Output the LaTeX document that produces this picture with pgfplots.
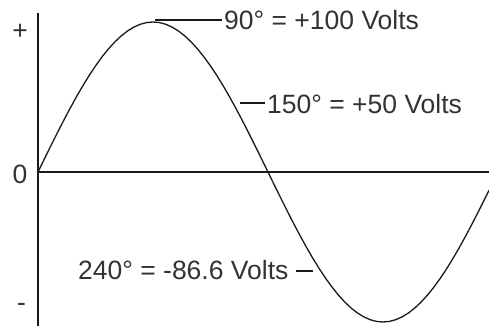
\documentclass[border=0pt]{standalone}
\usepackage{fontspec}
\setmainfont{Liberation Sans}
\usepackage{pgfplots}
\pgfplotsset{compat=1.18}
\begin{document}
\begin{tikzpicture}
\path[use as bounding box] (0,0) rectangle (489pt,326pt);
\begin{axis}[at={(38pt,0pt)}, anchor=south west, scale only axis,
  width=451pt, height=313pt, xmin=0, xmax=353, ymin=-102.67, ymax=106,
  axis lines=none, ticks=none, clip=false]
\draw[line width=1.5pt, black!90] (axis cs:0,-102.67) -- (axis cs:0,106);
\draw[line width=1.4pt, black!90] (axis cs:0,0) -- (axis cs:353,0);
\addplot[line width=1.3pt, black!90, mark=none] coordinates {
(0,0)(5,8.72)(10,17.36)(15,25.88)(20,34.20)(25,42.26)(30,50)(35,57.36)(40,64.28)(45,70.71)(50,76.60)(55,81.92)(60,86.60)(65,90.63)(70,93.97)(75,96.59)(80,98.48)(85,99.62)(90,100)(95,99.62)(100,98.48)(105,96.59)(110,93.97)(115,90.63)(120,86.60)(125,81.92)(130,76.60)(135,70.71)(140,64.28)(145,57.36)(150,50)(155,42.26)(160,34.20)(165,25.88)(170,17.36)(175,8.72)(180,0)(185,-8.72)(190,-17.36)(195,-25.88)(200,-34.20)(205,-42.26)(210,-50)(215,-57.36)(220,-64.28)(225,-70.71)(230,-76.60)(235,-81.92)(240,-86.60)(245,-90.63)(250,-93.97)(255,-96.59)(260,-98.48)(265,-99.62)(270,-100)(275,-99.62)(280,-98.48)(285,-96.59)(290,-93.97)(295,-90.63)(300,-86.60)(305,-81.92)(310,-76.60)(315,-70.71)(320,-64.28)(325,-57.36)(330,-50)(335,-42.26)(340,-34.20)(345,-25.88)(350,-17.36)(353,-12.19)
};
\end{axis}
\begin{scope}[x=1pt,y=-1pt,shift={(0pt,326pt)}, every node/.style={inner sep=0pt, text=black!80, font=\fontsize{26.5}{30}\selectfont}]
\draw[line width=1.2pt, black!90] (155,20) -- (222,20);
\draw[line width=1.2pt, black!90] (240,103) -- (265,103);
\draw[line width=1.2pt, black!90] (296,271) -- (313,271);
\node[anchor=west] at (224,20) {90° = +100 Volts};
\node[anchor=west] at (267,104) {150° = +50 Volts};
\node[anchor=west] at (78,270) {240° = -86.6 Volts};
\node at (20,32) {+};
\node at (20,174) {0};
\node at (21.5,307) {-};
\end{scope}
\end{tikzpicture}
\end{document}
